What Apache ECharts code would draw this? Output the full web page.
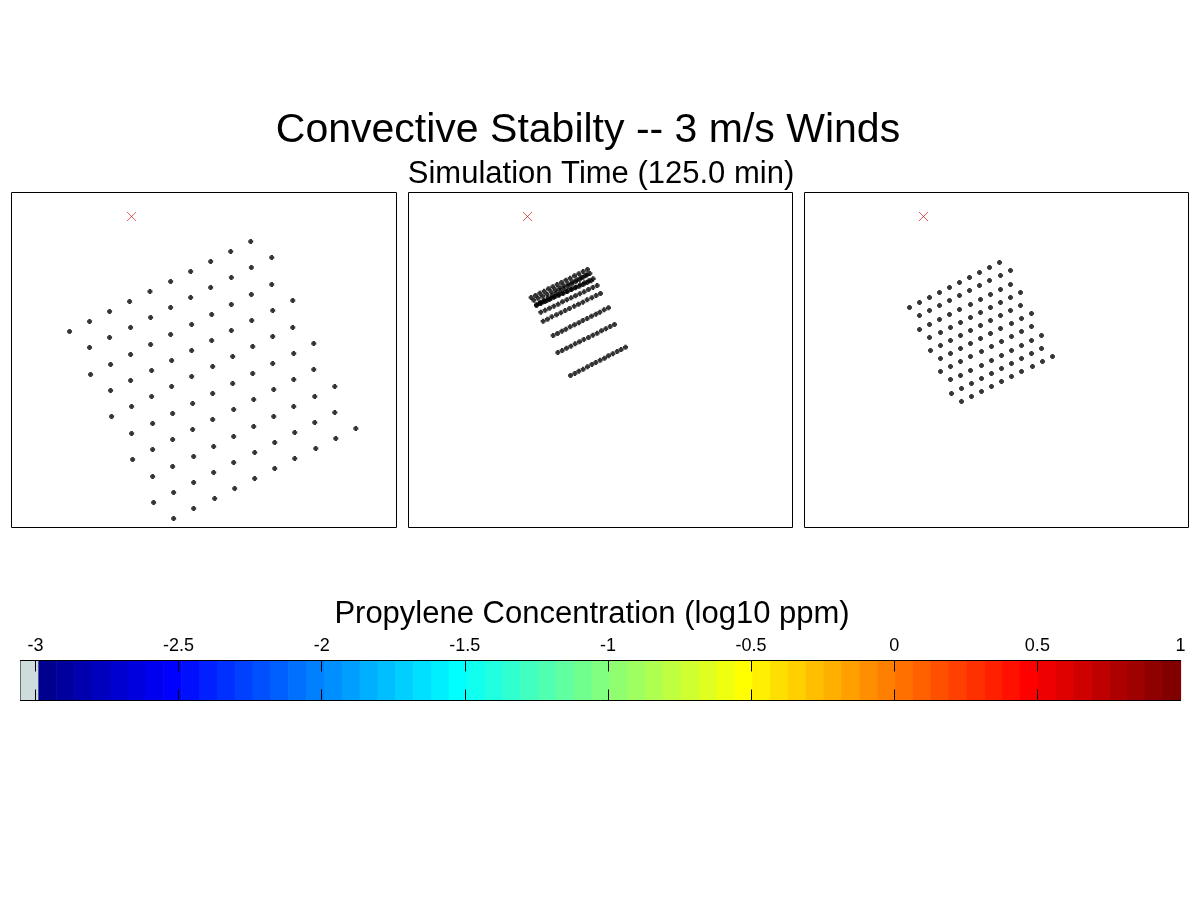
<!DOCTYPE html>
<html>
<head>
<meta charset="utf-8">
<script src="https://cdn.jsdelivr.net/npm/echarts@6/dist/echarts.min.js"></script>
<style>html,body{margin:0;padding:0;background:#fff}#c{width:1200px;height:900px}</style>
</head>
<body>
<div id="c"></div>
<script>
// ---- Data (panel units) ----
const titleText = 'Convective Stabilty -- 3 m/s Winds';
const subtitleText = 'Simulation Time (125.0 min)';
const colorbarLabel = 'Propylene Concentration (log10 ppm)';

const sourceA = [360, 933];
const sourceB = [357, 933];
const sourceC = [357, 933];

const panelA = [
  [174,588],
  [234,618],[234,540],[237,459],
  [294,648],[294,570],[297,489],[297,411],[300,333],
  [354,678],[357,600],[357,519],[357,441],[360,363],[360,282],[363,204],
  [415,708],[417,630],[417,549],[420,471],[420,393],[423,312],[423,234],[423,153],[426,75],
  [477,738],[477,660],[477,579],[480,501],[480,423],[483,342],[483,264],[483,183],[486,105],[486,27],
  [537,768],[537,690],[540,609],[540,531],[540,453],[543,372],[543,294],[546,213],[546,135],[546,57],
  [597,798],[597,720],[600,639],[600,561],[603,483],[603,402],[603,324],[606,243],[606,165],[609,87],
  [657,828],[659,750],[659,669],[659,591],[663,513],[663,432],[666,354],[666,273],[666,195],[669,117],
  [717,858],[719,780],[719,699],[720,621],[723,543],[723,462],[726,384],[726,303],[729,225],[729,147],
  [780,810],[780,729],[783,651],[783,573],[783,492],[786,414],[786,333],[789,255],[789,177],
  [843,681],[843,600],[846,522],[846,444],[846,363],[849,285],[849,207],
  [906,552],[906,474],[909,393],[909,315],[912,237],
  [969,423],[969,345],[972,267],
  [1032,297]
];

const panelB = [
  [368,690],[381,696],[394,703],[407,709],[420,716],[433,722],[446,729],[459,735],[472,742],[485,748],[498,755],[511,761],[524,768],[537,774],
  [376,682],[389,688],[402,694],[415,700],[428,707],[441,713],[454,719],[466,725],[479,731],[492,737],[505,743],[518,750],[531,756],[544,762],
  [384,668],[396,675],[407,682],[419,689],[431,696],[442,703],[454,710],[466,716],[478,723],[489,730],[501,737],[513,744],[524,751],[536,758],
  [384,666],[397,672],[410,678],[423,684],[436,691],[450,697],[463,703],[476,709],[489,715],[502,721],[515,728],[528,734],[541,740],[554,746],
  [392,672],[404,677],[416,682],[428,688],[440,693],[452,698],[464,703],[476,708],[488,714],[500,719],[512,724],[524,729],[536,735],[548,740],
  [397,646],[410,652],[423,658],[436,664],[449,670],[462,677],[475,683],[488,689],[501,695],[514,701],[527,707],[540,714],[553,720],[566,726],
  [404,619],[417,625],[430,632],[444,638],[457,644],[470,651],[483,657],[497,664],[510,670],[523,676],[536,683],[550,689],[563,696],[576,702],
  [434,576],[447,582],[460,589],[472,595],[485,602],[498,608],[511,614],[523,621],[536,627],[549,634],[562,640],[574,646],[587,653],[600,659],
  [448,525],[461,531],[474,538],[487,544],[500,551],[513,557],[526,564],[540,570],[553,577],[566,583],[579,590],[592,596],[605,603],[618,609],
  [486,456],[499,462],[511,469],[524,475],[537,482],[550,489],[562,495],[575,502],[588,508],[600,515],[613,521],[626,528],[638,534],[651,541]
];

const panelC = [
  [315,660],[345,675],[375,690],[405,705],[435,720],[465,735],[495,750],[525,765],[555,780],[585,795],
  [345,636],[375,651],[405,666],[435,681],[465,696],[495,711],[525,726],[555,741],[588,756],[618,771],
  [345,594],[375,609],[405,624],[435,639],[465,654],[498,669],[528,684],[558,699],[588,714],[618,729],
  [375,570],[408,585],[438,600],[468,615],[498,630],[528,645],[558,660],[588,675],[618,690],[648,705],
  [378,531],[408,546],[438,561],[468,576],[498,591],[528,606],[558,621],[588,636],[618,651],[648,666],
  [408,507],[438,522],[468,537],[498,552],[528,567],[558,582],[588,597],[621,612],[651,627],[681,642],
  [408,468],[438,483],[468,498],[498,513],[531,528],[561,543],[591,558],[621,573],[651,588],[681,603],
  [438,444],[468,456],[498,471],[531,486],[561,501],[591,516],[621,531],[651,546],[681,561],[711,576],
  [441,402],[471,417],[501,432],[531,447],[561,462],[591,477],[621,492],[651,507],[681,522],[711,537],
  [471,378],[501,393],[531,408],[561,423],[591,438],[621,453],[651,468],[684,483],[714,498],[744,513]
];

const cbTicks = [-3, -2.5, -2, -1.5, -1, -0.5, 0, 0.5, 1];
const cbMin = -3.0524, cbMax = 1, cbJetStart = -2.99;
const cbSteps = 64;
const underColor = '#cfdcdc';

// ---- Styling helpers ----
const FONT = "'Liberation Sans', Arial, Helvetica, sans-serif";
const plusSym = 'path://M1,0L3,0L3,1L4,1L4,3L3,3L3,4L1,4L1,3L0,3L0,1L1,1Z';
const xSym = 'path://M0,0L1,1M1,0L0,1';

function jet(m) {
  const n = Math.ceil(m / 4), u = [];
  for (let i = 1; i <= n; i++) u.push(i / n);
  for (let i = 1; i < n; i++) u.push(1);
  for (let i = n; i >= 1; i--) u.push(i / n);
  const g0 = Math.ceil(n / 2) - (m % 4 === 1 ? 1 : 0);
  const J = Array.from({length: m}, () => [0, 0, 0]);
  u.forEach((v, k) => {
    const g = g0 + k + 1, r = g + n, b = g - n;
    if (r >= 1 && r <= m) J[r - 1][0] = v;
    if (g >= 1 && g <= m) J[g - 1][1] = v;
    if (b >= 1 && b <= m) J[b - 1][2] = v;
  });
  return J.map(c => 'rgb(' + c.map(x => Math.round(x * 255)).join(',') + ')');
}
const jetColors = jet(cbSteps);
const cellW = (cbMax - cbJetStart) / cbSteps;
const cbCells = [[cbMin, cbJetStart, -1]];
for (let k = 0; k < cbSteps; k++) cbCells.push([cbJetStart + k * cellW, cbJetStart + (k + 1) * cellW, k]);

const panels = [
  {left: 11.5, width: 385, xmax: 1154, pts: panelA, src: sourceA},
  {left: 408.5, width: 384, xmax: 1152, pts: panelB, src: sourceB},
  {left: 804.5, width: 384, xmax: 1152, pts: panelC, src: sourceC}
];

const grid = [], xAxis = [], yAxis = [], series = [];
panels.forEach((p, i) => {
  grid.push({left: p.left, top: 192.5, width: p.width, height: 335, show: true,
    borderColor: '#000', borderWidth: 1, backgroundColor: '#fff'});
  xAxis.push({gridIndex: i, type: 'value', min: 0, max: p.xmax, show: false});
  yAxis.push({gridIndex: i, type: 'value', min: 0, max: 1005, show: false});
  series.push({type: 'scatter', xAxisIndex: i, yAxisIndex: i, data: p.pts,
    symbol: plusSym, symbolSize: 5, itemStyle: {color: '#000'}, silent: true, z: 3});
  series.push({type: 'scatter', xAxisIndex: i, yAxisIndex: i, data: [p.src],
    symbol: xSym, symbolSize: 9,
    itemStyle: {color: 'rgba(0,0,0,0)', borderColor: '#e00000', borderWidth: 0.8}, silent: true, z: 4});
});

// colorbar
grid.push({left: 20.5, top: 660.5, width: 1160, height: 40, show: true, borderColor: '#000', borderWidth: 1});
const tickVals = cbTicks.filter(v => v < cbMax);
xAxis.push({gridIndex: 3, type: 'value', min: cbMin, max: cbMax, position: 'bottom',
  axisLine: {show: true, lineStyle: {color: '#000', width: 1}},
  axisTick: {show: true, inside: true, length: 11, customValues: tickVals, lineStyle: {color: '#000', width: 1}},
  axisLabel: {show: false}, splitLine: {show: false}, z: 10});
xAxis.push({gridIndex: 3, type: 'value', min: cbMin, max: cbMax, position: 'top',
  axisLine: {show: true, lineStyle: {color: '#000', width: 1}},
  axisTick: {show: true, inside: true, length: 11, customValues: tickVals, lineStyle: {color: '#000', width: 1}},
  axisLabel: {show: true, customValues: cbTicks, margin: 5, color: '#000', fontSize: 18, fontFamily: FONT,
    formatter: v => String(Math.round(v * 10) / 10)},
  splitLine: {show: false}, z: 10});
yAxis.push({gridIndex: 3, type: 'value', min: 0, max: 1, show: false});

series.push({
  type: 'custom', xAxisIndex: 3, yAxisIndex: 3, data: cbCells, silent: true, z: 1,
  renderItem: function (params, api) {
    const a = api.coord([api.value(0), 1]);
    const b = api.coord([api.value(1), 0]);
    const idx = api.value(2);
    return {type: 'rect', shape: {x: a[0], y: a[1], width: b[0] - a[0] + 0.6, height: b[1] - a[1]},
      style: {fill: idx < 0 ? underColor : jetColors[idx]}};
  }
});

const chart = echarts.init(document.getElementById('c'), null, {renderer: 'canvas'});
chart.setOption({
  animation: false,
  backgroundColor: '#fff',
  grid, xAxis, yAxis, series,
  graphic: [
    {type: 'text', x: 588, y: 131, style: {text: titleText, fontSize: 41, fontFamily: FONT, fill: '#000',
      align: 'center', verticalAlign: 'middle', textAlign: 'center', textVerticalAlign: 'middle'}},
    {type: 'text', x: 601, y: 174, style: {text: subtitleText, fontSize: 31, fontFamily: FONT, fill: '#000',
      align: 'center', verticalAlign: 'middle', textAlign: 'center', textVerticalAlign: 'middle'}},
    {type: 'text', x: 592, y: 614, style: {text: colorbarLabel, fontSize: 31, fontFamily: FONT, fill: '#000',
      align: 'center', verticalAlign: 'middle', textAlign: 'center', textVerticalAlign: 'middle'}}
  ]
});
</script>
</body>
</html>
